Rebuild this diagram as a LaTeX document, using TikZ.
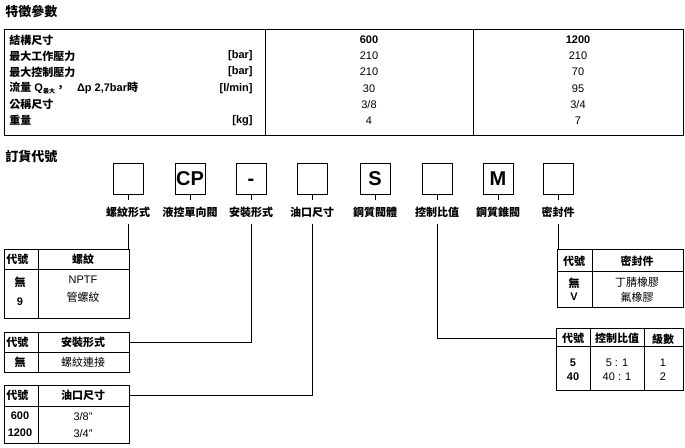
\documentclass[tikz,border=0pt]{standalone}
\usepackage{fontspec}
\setmainfont{Liberation Sans}
\newfontfamily\cjk{Noto Sans CJK TC}
\usetikzlibrary{calc}
\newcommand{\zh}[1]{{\cjk #1}}
\tikzset{
  txt/.style={inner sep=0pt,font=\fontsize{11}{13}\selectfont},
  txtb/.style={inner sep=0pt,font=\fontsize{11}{13}\selectfont\bfseries},
  codebox/.style={draw,line width=0.8pt,minimum width=30pt,minimum height=31pt,inner sep=0pt,text height=14pt,text depth=0pt,font=\fontsize{20}{22}\selectfont\bfseries},
  codelbl/.style={txtb,inner ysep=6pt},
  frame/.style={draw,line width=0.9pt,inner sep=0pt,anchor=north west},
}
\begin{document}
\begin{tikzpicture}[x=1pt,y=-1pt,line width=0.8pt]
  \useasboundingbox (0,0) rectangle (685,447);
  % headings
  \node[anchor=west,inner sep=0pt,font=\fontsize{13}{15}\selectfont\bfseries] (title) at (5,12) {\zh{特徵參數}};
  \node[anchor=west,inner sep=0pt,font=\fontsize{13}{15}\selectfont\bfseries] (order) at (5,157) {\zh{訂貨代號}};
  % parameter table
  \draw[line width=1pt] (4,29) rectangle (683,135);
  \draw[line width=1pt] (265,29) -- (265,135) (473,29) -- (473,135);
  \node[txtb,anchor=west] (p1) at (9,40) {\zh{結構尺寸}};
  \node[txtb,anchor=west] (p2) at (9,56) {\zh{最大工作壓力}};
  \node[txtb,anchor=west] (p3) at (9,72) {\zh{最大控制壓力}};
  \node[txtb,anchor=west] (p4) at (9,88.5) {\zh{流量} Q\raisebox{-2pt}{\fontsize{6}{6}\selectfont\zh{最大}}\zh{，}\quad Δp 2,7bar\zh{時}};
  \node[txtb,anchor=west] (p5) at (9,104.5) {\zh{公稱尺寸}};
  \node[txtb,anchor=west] (p6) at (9,120.5) {\zh{重量}};
  \node[txtb,anchor=east] (u2) at (253,56) {[bar]};
  \node[txtb,anchor=east] (u3) at (253,72) {[bar]};
  \node[txtb,anchor=east] (u4) at (253,88.5) {[l/min]};
  \node[txtb,anchor=east] (u6) at (253,120.5) {[kg]};
  \node[txtb] (a1) at (369,40) {600};
  \node[txt] (a2) at (369,56) {210};
  \node[txt] (a3) at (369,72) {210};
  \node[txt] (a4) at (369,88.5) {30};
  \node[txt] (a5) at (369,104.5) {3/8};
  \node[txt] (a6) at (369,120.5) {4};
  \node[txtb] (b1) at (578,40) {1200};
  \node[txt] (b2) at (578,56) {210};
  \node[txt] (b3) at (578,72) {70};
  \node[txt] (b4) at (578,88.5) {95};
  \node[txt] (b5) at (578,104.5) {3/4};
  \node[txt] (b6) at (578,120.5) {7};
  % order code boxes and labels
  \foreach \x/\name/\code/\lbl in {128/thread//螺紋形式, 190/cp/CP/液控單向閥, 251/mount/-/安裝形式,
      312/port//油口尺寸, 375/body/S/鋼質閥體, 437/ratio//控制比值, 498/cone/M/鋼質錐閥, 558/seal//密封件}{
    \node[codebox] (\name) at (\x,178.5) {\code};
    \node[codelbl] (\name-l) at (\x,212) {\zh{\lbl}};
    \draw (\name.south) -- (\name-l.north);
  }
  % thread table
  \node[frame,minimum width=125pt,minimum height=69pt] (t1) at (4,249) {};
  \draw (4,269) -- (129,269) (38,249) -- (38,318);
  \node[txtb,anchor=west] (t1a) at (6,259) {\zh{代號}};
  \node[txtb] (t1b) at (83,259) {\zh{螺紋}};
  \node[txtb] (t1c) at (20,282) {\zh{無}};
  \node[txtb] (t1d) at (20,302) {9};
  \node[txt] (t1e) at (83,280) {NPTF};
  \node[txt] (t1f) at (83,297) {\zh{管螺紋}};
  % mounting table
  \node[frame,minimum width=125pt,minimum height=40pt] (t2) at (4,332) {};
  \draw (4,352) -- (129,352) (38,332) -- (38,372);
  \node[txtb,anchor=west] (t2a) at (6,342) {\zh{代號}};
  \node[txtb] (t2b) at (83,342) {\zh{安裝形式}};
  \node[txtb] (t2c) at (20,362) {\zh{無}};
  \node[txt] (t2d) at (83,362) {\zh{螺紋連接}};
  % port table
  \node[frame,minimum width=125pt,minimum height=58pt] (t3) at (4,385) {};
  \draw (4,406) -- (129,406) (38,385) -- (38,443);
  \node[txtb,anchor=west] (t3a) at (6,395) {\zh{代號}};
  \node[txtb] (t3b) at (83,395) {\zh{油口尺寸}};
  \node[txtb] (t3c) at (20,416) {600};
  \node[txtb] (t3d) at (20,433) {1200};
  \node[txt] (t3e) at (83,417) {3/8"};
  \node[txt] (t3f) at (83,434) {3/4"};
  % seal table
  \node[frame,minimum width=126pt,minimum height=58pt] (t4) at (557,249) {};
  \draw (557,271) -- (683,271) (592,249) -- (592,307);
  \node[txtb] (t4a) at (574,261) {\zh{代號}};
  \node[txtb] (t4b) at (637,261) {\zh{密封件}};
  \node[txtb] (t4c) at (574,283) {\zh{無}};
  \node[txtb] (t4d) at (574,297) {V};
  \node[txt] (t4e) at (637,282) {\zh{丁腈橡膠}};
  \node[txt] (t4f) at (637,297) {\zh{氟橡膠}};
  % ratio table
  \node[frame,minimum width=127pt,minimum height=62pt] (t5) at (556,328) {};
  \draw (556,346) -- (683,346) (590,328) -- (590,390) (644,328) -- (644,390);
  \node[txtb] (t5a) at (573,338) {\zh{代號}};
  \node[txtb] (t5b) at (617,338) {\zh{控制比值}};
  \node[txtb] (t5c) at (663,339) {\zh{級數}};
  \node[txtb] (t5d) at (573,363) {5};
  \node[txtb] (t5e) at (573,377) {40};
  \node[txt] (t5f) at (617,363) {5 : 1};
  \node[txt] (t5g) at (617,377) {40 : 1};
  \node[txt] (t5h) at (663,363) {1};
  \node[txt] (t5i) at (663,377) {2};
  % connectors
  \draw (thread-l.south) -- (thread-l.south |- t1.north);
  \draw (mount-l.south) |- (t2.east |- t2b);
  \draw (port-l.south) |- (t3.east |- t3b);
  \draw (ratio-l.south) |- (t5.west |- t5b);
  \draw (seal-l.south) -- (seal-l.south |- t4.north);
\end{tikzpicture}
\end{document}
